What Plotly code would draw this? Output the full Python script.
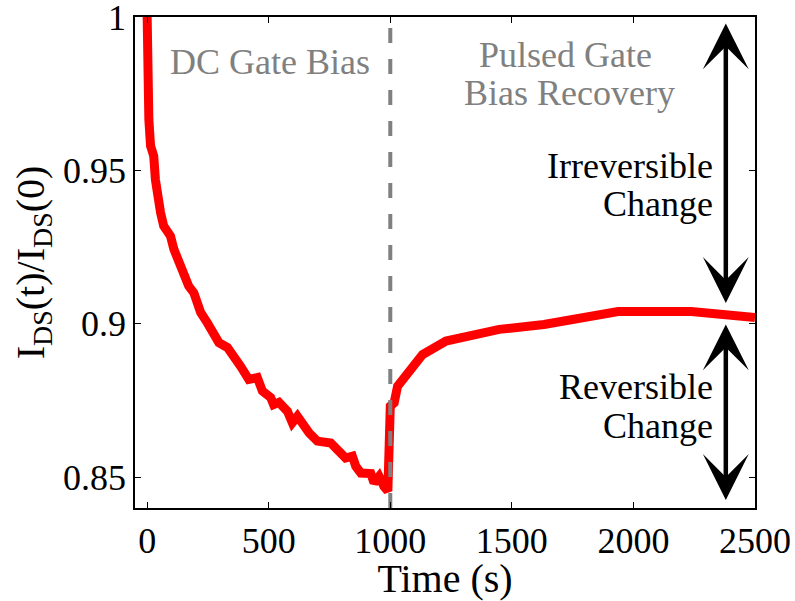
import plotly.graph_objects as go

# Drain current normalised to its initial value during DC gate stress
dc_time = [0, 2, 7, 14, 27, 34, 41, 55, 68, 96, 110, 130, 144, 171, 192, 220,
           247, 268, 295, 330, 357, 384, 418, 453, 474, 508, 520, 542, 577,
           597, 618, 631, 666, 700, 755, 782, 816, 844, 858, 879, 920, 933,
           954, 974, 990]
dc_ratio = [1.0, 0.968, 0.9666, 0.958, 0.9547, 0.947, 0.9406, 0.9363, 0.9319,
            0.9286, 0.9243, 0.920, 0.9167, 0.9123, 0.9101, 0.9037, 0.9004,
            0.8971, 0.8939, 0.8923, 0.8895, 0.8862, 0.8819, 0.8825, 0.8781,
            0.876, 0.8737, 0.8744, 0.8715, 0.8678, 0.8699, 0.8683, 0.8645,
            0.8618, 0.8612, 0.859, 0.8563, 0.8569, 0.8536, 0.8514, 0.8512,
            0.8482, 0.8503, 0.8470, 0.8455]

# Recovery under pulsed gate bias
rec_time = [1000, 1016, 1030, 1071, 1133, 1229, 1332, 1448, 1632, 1937, 2238, 2500]
rec_ratio = [0.8732, 0.8743, 0.8797, 0.8841, 0.8900, 0.8944, 0.8965, 0.8982,
             0.8998, 0.9040, 0.9040, 0.9021]

switch_time = 1000
x_ticks = [0, 500, 1000, 1500, 2000, 2500]
y_ticks = [0.85, 0.9, 0.95, 1.0]
y_tick_text = ["0.85", "0.9", "0.95", "1"]

# Extent of the two change regions (time of arrows, value bounds)
arrow_time = 2380
irrev_span = (0.9984, 0.9068)
rev_span = (0.9003, 0.8426)

FONT = "Liberation Serif"
GREY = "#808080"

fig = go.Figure()
fig.add_trace(go.Scatter(
    x=dc_time + rec_time, y=dc_ratio + rec_ratio, mode="lines",
    line=dict(color="#ff0000", width=9), showlegend=False,
))
fig.add_trace(go.Scatter(
    x=[switch_time, switch_time], y=[0.84, 1.0], mode="lines",
    line=dict(color=GREY, width=4, dash="15px,16px"), showlegend=False,
))

annotations = []
for y0, y1 in (irrev_span, rev_span):
    annotations.append(dict(
        x=arrow_time, y=y1, ax=arrow_time, ay=y0, xref="x", yref="y",
        axref="x", ayref="y", text="", showarrow=True, arrowside="end+start",
        arrowhead=3, startarrowhead=3, arrowwidth=4.5, arrowsize=1.7,
        startarrowsize=1.7, arrowcolor="black",
    ))

labels = [
    ("DC Gate Bias", 505, 0.9854, "center", GREY),
    ("Pulsed Gate", 1719, 0.9876, "center", GREY),
    ("Bias Recovery", 1735, 0.9751, "center", GREY),
    ("Irreversible", 2335, 0.9514, "right", "black"),
    ("Change", 2335, 0.9391, "right", "black"),
    ("Reversible", 2335, 0.8793, "right", "black"),
    ("Change", 2335, 0.8668, "right", "black"),
]
for text, x, y, anchor, color in labels:
    annotations.append(dict(
        x=x, y=y, xref="x", yref="y", text=text, showarrow=False,
        xanchor=anchor, yanchor="middle",
        font=dict(family=FONT, size=36, color=color),
    ))

axis_common = dict(
    showline=True, linecolor="black", linewidth=1.5, mirror="ticks",
    ticks="inside", ticklen=6, tickwidth=1, tickcolor="black",
    showgrid=False, zeroline=False, automargin=False,
    ticklabeloverflow="allow",
    tickfont=dict(family=FONT, size=36, color="black"),
)

fig.update_layout(
    width=795, height=601,
    font=dict(family=FONT, size=36, color="black"),
    margin=dict(l=135, r=40, t=17, b=93),
    plot_bgcolor="white", paper_bgcolor="white",
    xaxis=dict(range=[-50, 2500], tickvals=x_ticks,
               title=dict(text="Time (s)", font=dict(family=FONT, size=40, color="black"),
                          standoff=2),
               **axis_common),
    yaxis=dict(range=[0.84, 1.0], tickvals=y_ticks, ticktext=y_tick_text,
               title=dict(text="I<sub>DS</sub>(t)/I<sub>DS</sub>(0)",
                          font=dict(family=FONT, size=40, color="black"),
                          standoff=6),
               **axis_common),
    annotations=annotations,
)

fig.write_html("out.html")
